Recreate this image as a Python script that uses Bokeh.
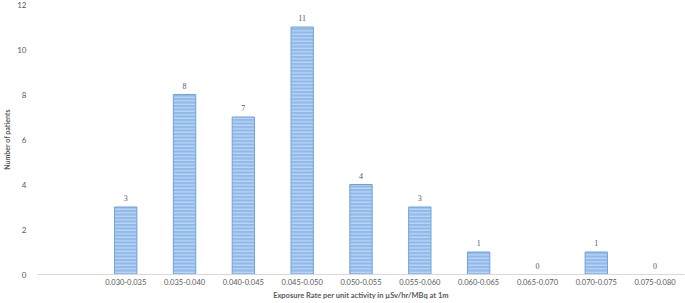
from bokeh.plotting import figure
from bokeh.models import ColumnDataSource, FixedTicker, LabelSet
from bokeh.embed import file_html
from bokeh.resources import INLINE

# Data
bins = ["0.030-0.035", "0.035-0.040", "0.040-0.045", "0.045-0.050", "0.050-0.055",
        "0.055-0.060", "0.060-0.065", "0.065-0.070", "0.070-0.075", "0.075-0.080"]
patients = [3, 8, 7, 11, 4, 3, 1, 0, 1, 0]
y_ticks = [0, 2, 4, 6, 8, 10, 12]
x_title = "Exposure Rate per unit activity in \u00b5Sv/hr/MBq at 1m"
y_title = "Number of patients"

factors = [" "] + bins
src = ColumnDataSource(dict(x=bins, y=patients, lab=[str(v) for v in patients]))

FONT = "Lato"
GRAY = "#595959"

p = figure(x_range=factors, y_range=(0, 12), width=685, height=303,
           output_backend="svg", toolbar_location=None,
           min_border_left=26, min_border_right=1, min_border_top=4, min_border_bottom=29)
p.outline_line_color = None
p.grid.grid_line_color = None

p.vbar(x="x", top="y", width=0.38, source=src,
       fill_color="#8fb9ea", line_color="#6fa3dc", line_width=1,
       hatch_pattern="horizontal_line", hatch_color="white", hatch_alpha=0.55,
       hatch_scale=3.5, hatch_weight=1)

labels = LabelSet(x="x", y="y", text="lab", source=src, y_offset=6,
                  text_align="center", text_baseline="bottom",
                  text_font=FONT, text_font_size="8px", text_color=GRAY)
p.add_layout(labels)

p.yaxis.ticker = FixedTicker(ticks=y_ticks)
p.yaxis.axis_line_color = None
p.yaxis.major_tick_line_color = None
p.yaxis.minor_tick_line_color = None
p.yaxis.major_label_standoff = 5
p.yaxis.major_label_text_font = FONT
p.yaxis.major_label_text_font_size = "8px"
p.yaxis.major_label_text_color = GRAY
p.yaxis.axis_label = y_title
p.yaxis.axis_label_text_font = FONT
p.yaxis.axis_label_text_font_size = "7px"
p.yaxis.axis_label_text_font_style = "bold"
p.yaxis.axis_label_text_color = GRAY
p.yaxis.axis_label_standoff = 3

p.xaxis.axis_line_color = "#d9d9d9"
p.xaxis.axis_line_width = 1
p.xaxis.major_tick_line_color = None
p.xaxis.minor_tick_line_color = None
p.xaxis.major_tick_out = 0
p.xaxis.major_tick_in = 0
p.xaxis.major_label_standoff = 3
p.xaxis.major_label_text_font = FONT
p.xaxis.major_label_text_font_size = "7.5px"
p.xaxis.major_label_text_line_height = 1.0
p.xaxis.major_label_text_color = GRAY
p.xaxis.axis_label = x_title
p.xaxis.axis_label_text_font = FONT
p.xaxis.axis_label_text_font_size = "7.5px"
p.xaxis.axis_label_text_line_height = 1.0
p.xaxis.axis_label_text_font_style = "bold"
p.xaxis.axis_label_text_color = GRAY
p.xaxis.axis_label_standoff = 1

template = """
{% block postamble %}
<style>html, body { margin: 0 !important; padding: 0 !important; }</style>
{% endblock %}
"""
open("out.html", "w").write(file_html(p, INLINE, template=template))
